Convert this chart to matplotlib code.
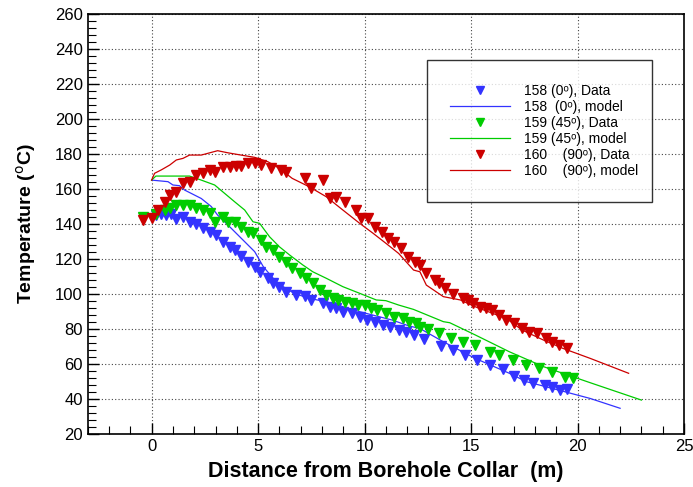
import matplotlib
matplotlib.use("Agg")
import matplotlib.pyplot as plt
from matplotlib.ticker import MultipleLocator

plt.rcParams["font.family"] = ["Liberation Sans", "DejaVu Sans"]

# 158 (0 deg)
d158_x = [0.22, 0.45, 0.69, 0.92, 1.16, 1.47, 1.78, 2.1, 2.4, 2.72, 3.04, 3.35, 3.66, 3.9,
          4.2, 4.52, 4.84, 5.07, 5.46, 5.7, 6.0, 6.3, 6.8, 7.2, 7.5, 8.04, 8.36, 8.67, 8.98,
          9.4, 9.77, 10.1, 10.5, 10.86, 11.2, 11.6, 11.96, 12.3, 12.8, 13.6, 14.15, 14.7,
          15.3, 15.9, 16.5, 17.0, 17.5, 17.9, 18.45, 18.8, 19.2, 19.5]
d158_y = [145, 146, 145, 146, 143, 144, 141, 140, 138, 135.6, 133.7, 130, 127, 125,
          121.7, 118.5, 115.6, 112.7, 109, 106.5, 104.2, 101.3, 99.4, 98.9, 96.6, 94.7, 92.7,
          91.8, 89.9, 89, 87, 85.1, 84.2, 82.3, 81.3, 79.4, 78.5, 76.6, 74.1, 70.3, 68, 65.1,
          62.3, 59.4, 57, 53.1, 50.9, 49.3, 48, 47, 45.3, 45.5]
m158_x = [0, 0.77, 1.0, 1.31, 1.55, 1.86, 2.33, 2.8, 3.1, 3.43, 3.9, 4.37, 4.84, 5.25, 5.85,
          6.3, 6.7, 7.4, 8.2, 9.77, 11.3, 12.1, 12.6, 13.7, 15.2, 16.8, 17.6, 18.4, 20.6, 22.0]
m158_y = [165.1, 164.2, 162.3, 161.9, 159.4, 157.5, 154.6, 150, 145.1, 141.3, 135.6, 129.9,
          124.2, 115.5, 107, 103.2, 100.4, 97.5, 95.6, 89.9, 85.1, 81.7, 80.3, 72.7, 63.2,
          54.7, 49.9, 47.4, 40.3, 34.7]

# 159 (45 deg)
d159_x = [-0.4, 0.2, 0.61, 0.85, 1.16, 1.47, 1.78, 2.1, 2.4, 2.72, 2.96, 3.35, 3.58, 3.9,
          4.2, 4.52, 4.76, 5.15, 5.38, 5.7, 6.0, 6.3, 6.6, 6.95, 7.26, 7.57, 7.9, 8.2, 8.5,
          8.75, 9.06, 9.4, 9.7, 10.0, 10.3, 10.6, 11.0, 11.4, 11.8, 12.1, 12.4, 12.6, 13.0,
          13.5, 14.07, 14.6, 15.2, 15.9, 16.3, 16.96, 17.6, 18.2, 18.8, 19.4, 19.8]
d159_y = [144.2, 146, 148, 149, 150.9, 150.9, 150.9, 149, 148, 146.1, 141.3, 144.2, 141.3,
          141.3, 138.5, 135.6, 134.7, 130.9, 127, 125.1, 121.3, 118.5, 114.7, 111.8, 109,
          106.1, 102.3, 99.4, 97.5, 96.6, 95.6, 94.7, 93.7, 94, 91.8, 90.9, 89, 87, 86.1,
          84.2, 83.2, 81.3, 79.8, 77.5, 74.7, 72.7, 70.9, 67, 65.1, 62.3, 59.4, 57.5, 55.6,
          52.7, 51.8]
m159_x = [0, 0.2, 1.78, 2.33, 2.96, 3.43, 3.9, 4.37, 4.76, 5.07, 5.54, 6.0, 6.48, 7.1, 7.57,
          8.2, 8.98, 9.77, 10.55, 11.0, 11.6, 12.3, 13.7, 14.0, 15.2, 16.8, 18.4, 20.6, 23.0]
m159_y = [165.1, 167.4, 167.4, 165.1, 162.3, 157.5, 152.7, 148, 141.3, 140.4, 132.7, 127,
          122.3, 116.6, 112.7, 109, 104.2, 100.4, 96.6, 96.2, 93.7, 91.2, 84.2, 83.6, 76.6,
          67, 58.5, 49.3, 39.4]

# 160 (90 deg)
d160_x = [-0.4, 0, 0.3, 0.61, 0.85, 1.16, 1.47, 1.78, 2.1, 2.4, 2.72, 2.96, 3.35, 3.66,
          3.98, 4.2, 4.52, 4.84, 5.15, 5.62, 6.09, 6.3, 7.2, 7.5, 8.04, 8.36, 8.67, 9.06,
          9.6, 9.84, 10.16, 10.5, 10.8, 11.1, 11.4, 11.7, 12.04, 12.35, 12.6, 12.9, 13.3,
          13.5, 13.8, 14.15, 14.6, 14.85, 15.1, 15.4, 15.7, 16.0, 16.3, 16.65, 17.0, 17.4,
          17.7, 18.1, 18.5, 18.8, 19.15, 19.5]
d160_y = [142.3, 143.2, 148, 152.7, 156.6, 158.5, 163.3, 164.2, 168, 169, 170.9, 170, 172.8,
          172.8, 173.1, 173.1, 175, 175, 173.7, 171.8, 170.9, 170, 166.1, 160.4, 165.1,
          154.6, 155.6, 152.7, 148, 143.2, 143.2, 138.5, 135.6, 131.8, 129.9, 126.1, 121.3,
          118.5, 116.6, 111.8, 108, 106.1, 103.2, 100, 97.5, 96.6, 94.7, 92.7, 91.8, 90.9,
          88, 85.1, 83.2, 80.3, 78.5, 77.5, 74.7, 72.7, 70.9, 69]
m160_x = [0, 0.14, 0.45, 0.85, 1.16, 1.47, 1.78, 2.33, 2.64, 3.1, 3.58, 4.2, 4.84, 5.46, 6.0,
          6.6, 7.4, 8.2, 8.98, 9.77, 10.4, 11.0, 11.6, 12.3, 12.6, 12.9, 13.7, 14.5, 15.2,
          16.0, 16.65, 17.4, 18.4, 19.3, 20.6, 22.4]
m160_y = [165.1, 169, 170.9, 173.7, 176.6, 177.5, 179.4, 179.4, 180.4, 181.9, 180.7, 179.4,
          178.1, 175.6, 171.8, 166.1, 161.3, 155.6, 148, 140.4, 134.7, 129, 123.2, 113.7,
          112.7, 105.1, 98.5, 96.6, 92.7, 89, 86.1, 79.4, 73.7, 69, 63.2, 54.7]

series = [
    (d158_x, d158_y, m158_x, m158_y, "#3333ff", "158 (0ᵒ), Data", "158  (0ᵒ), model"),
    (d159_x, d159_y, m159_x, m159_y, "#00cc00", "159 (45ᵒ), Data", "159 (45ᵒ), model"),
    (d160_x, d160_y, m160_x, m160_y, "#cc0000", "160    (90ᵒ), Data", "160    (90ᵒ), model"),
]

fig = plt.figure(figsize=(6.93, 4.87), dpi=100)
ax = fig.add_axes([0.1266, 0.1088, 0.8604, 0.8624])

handles = []
labels = []
for dx, dy, mx, my, color, dlab, mlab in series:
    h1, = ax.plot(dx, dy, linestyle="none", marker="v", markersize=6.5, color=color)
    h2, = ax.plot(mx, my, color=color, linewidth=0.9)
    handles += [h1, h2]
    labels += [dlab, mlab]

ax.set_xlim(-3, 25)
ax.set_ylim(20, 260)
ax.xaxis.set_major_locator(MultipleLocator(5))
ax.xaxis.set_minor_locator(MultipleLocator(1))
ax.yaxis.set_major_locator(MultipleLocator(20))
ax.yaxis.set_minor_locator(MultipleLocator(4))
ax.tick_params(which="both", direction="in", labelsize=12, colors="black")
ax.tick_params(which="major", length=8, width=1)
ax.tick_params(which="minor", length=6, width=0.8)
ax.grid(True, which="major", linestyle=(0, (1, 2)), color="#444444", linewidth=0.8)
for sp in ax.spines.values():
    sp.set_linewidth(1.2)

ax.set_xlabel("Distance from Borehole Collar  (m)", fontsize=15.5, fontweight="bold", labelpad=5)
ax.set_ylabel("Temperature ($^{\\rm o}$C)", fontsize=14, fontweight="bold", labelpad=12)

leg = ax.legend(handles, labels, loc="upper left", bbox_to_anchor=(0.616, 0.616, 0.325, 0.261),
                bbox_transform=fig.transFigure, mode="expand", fontsize=10, frameon=True,
                fancybox=False, edgecolor="black", handlelength=4.3, borderpad=1.7,
                labelspacing=0.15, handletextpad=1.0, markerscale=0.9, borderaxespad=0)
leg.get_frame().set_linewidth(1.0)

fig.savefig("out.png", dpi=100)
